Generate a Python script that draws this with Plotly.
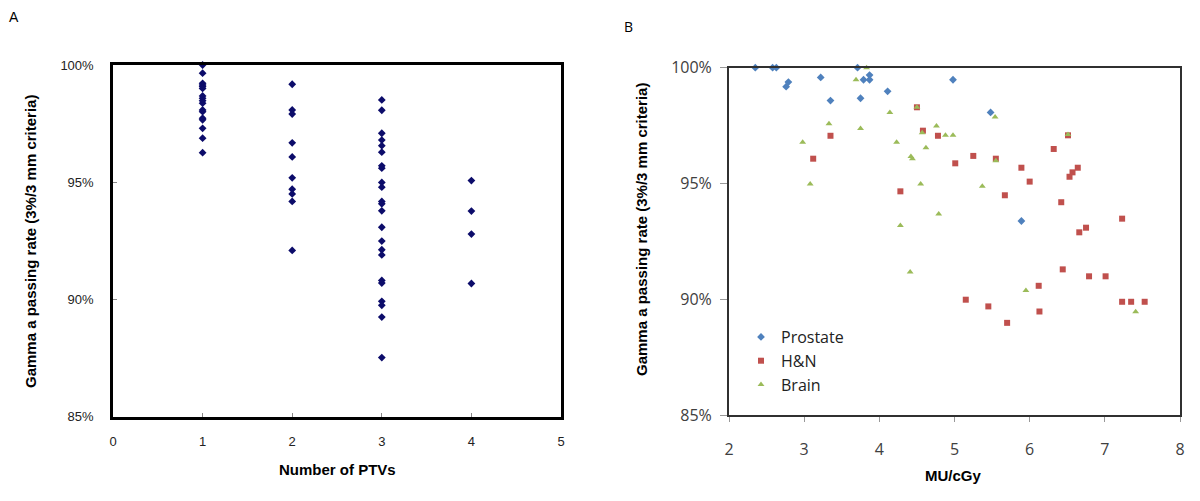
import plotly.graph_objects as go

# panel A: passing rate by number of PTVs
ptv_1 = [100, 99.65, 99.22, 99.15, 99.08, 99.0, 98.68, 98.58, 98.48, 98.37,
         98.08, 98.01, 97.73, 97.66, 97.3, 96.88, 96.26]
ptv_2 = [99.18, 98.08, 97.91, 96.68, 96.08, 95.19, 94.70, 94.50, 94.18, 92.09]
ptv_3 = [98.51, 98.07, 97.09, 96.80, 96.56, 96.28, 95.70, 95.60, 94.99, 94.79,
         94.18, 94.08, 93.78, 93.08, 92.49, 92.12, 91.90, 90.81, 90.70, 89.92,
         89.75, 89.25, 87.52]
ptv_4 = [95.07, 93.77, 92.79, 90.68]

# panel B: passing rate vs MU/cGy
prostate_mu = [2.35, 2.58, 2.63, 2.76, 2.79, 3.22, 3.35, 3.71, 3.75, 3.79,
               3.87, 3.87, 4.11, 4.98, 5.48, 5.89]
prostate_rate = [100, 100, 100, 99.18, 99.38, 99.58, 98.58, 100, 98.68, 99.48,
                 99.68, 99.48, 98.98, 99.48, 98.07, 93.38]

hn_mu = [3.12, 3.35, 4.28, 4.50, 4.58, 4.78, 5.01, 5.25, 5.55, 5.67, 5.89,
         6.00, 6.32, 6.42, 6.44, 6.51, 6.53, 6.57, 6.64, 6.66, 6.75, 6.79,
         7.01, 7.23, 6.12, 5.15, 5.45, 5.70, 6.13, 7.23, 7.35, 7.53]
hn_rate = [96.07, 97.06, 94.66, 98.29, 97.28, 97.06, 95.87, 96.19, 96.07,
           94.49, 95.68, 95.08, 96.49, 94.19, 91.29, 97.08, 95.29, 95.48,
           95.68, 92.89, 93.09, 90.99, 90.99, 93.48, 90.58, 89.98, 89.69,
           88.98, 89.47, 89.89, 89.89, 89.89]

brain_mu = [2.98, 3.08, 3.33, 3.69, 3.75, 3.83, 4.14, 4.23, 4.28, 4.41, 4.42,
            4.44, 4.50, 4.55, 4.57, 4.62, 4.76, 4.79, 4.88, 4.98, 5.37, 5.54,
            5.55, 5.95, 6.51, 7.41]
brain_rate = [96.78, 94.98, 97.58, 99.48, 97.37, 100, 98.07, 96.78, 93.18,
              91.18, 96.17, 96.07, 98.29, 94.98, 97.19, 96.54, 97.48, 93.68,
              97.08, 97.08, 94.88, 97.87, 95.98, 90.38, 97.12, 89.46]

# page body has an 8px margin, so the figure is a bit smaller and shifted
OFF = 8
W, H = 1200 - OFF, 501 - OFF


def px(x):
    return (x - OFF) / W


def py(y):
    return 1 - (y - OFF) / H


fig = go.Figure()

# panel A
ptv_x, ptv_y = [], []
for n, vals in enumerate([ptv_1, ptv_2, ptv_3, ptv_4], start=1):
    ptv_x += [n] * len(vals)
    ptv_y += vals
fig.add_trace(go.Scatter(x=ptv_x, y=ptv_y, mode='markers', showlegend=False,
                         marker=dict(symbol='diamond', size=6, color='#0c0c6a'),
                         cliponaxis=False, xaxis='x', yaxis='y'))

# panel B
series = [('Prostate', prostate_mu, prostate_rate, 'diamond', 6, '#4F81BD'),
          ('H&N', hn_mu, hn_rate, 'square', 6, '#C0504D'),
          ('Brain', brain_mu, brain_rate, 'triangle-up', 6, '#9BBB59')]
for name, mu, rate, sym, sz, col in series:
    fig.add_trace(go.Scatter(x=mu, y=rate, mode='markers', name=name,
                             marker=dict(symbol=sym, size=sz, color=col),
                             cliponaxis=False, xaxis='x2', yaxis='y2'))

font_a = dict(family='Liberation Sans, Arial', size=13, color='#222222')
font_b = dict(family='Open Sans, Noto Sans', size=16, color='#404040')

fig.update_layout(
    template='none',
    width=W, height=H,
    margin=dict(l=0, r=0, t=0, b=0, pad=0),
    plot_bgcolor='white', paper_bgcolor='white',
    xaxis=dict(domain=[px(113), px(561)], range=[0, 5], dtick=1,
               automargin=False,
               showline=True, mirror=True, linecolor='black', linewidth=2.5,
               showgrid=False, zeroline=False, ticks='inside', ticklen=4,
               tickcolor='#888888', tickfont=font_a, ticklabelstandoff=11),
    yaxis=dict(domain=[py(416.7), py(65)], range=[85, 100], dtick=5,
               automargin=False,
               ticksuffix='%', showline=True, mirror=True, linecolor='black',
               linewidth=2.5, showgrid=False, zeroline=False, ticks='inside',
               ticklen=4, tickcolor='#888888', tickfont=font_a,
               ticklabelstandoff=14),
    xaxis2=dict(domain=[px(729), px(1180)], range=[2, 8], dtick=1,
                automargin=False,
                anchor='y2', showline=True, mirror=True, linecolor='#303030',
                linewidth=2, showgrid=False, zeroline=False, ticks='outside',
                ticklen=5, tickcolor='#999999', tickfont=font_b,
                ticklabelstandoff=14),
    yaxis2=dict(domain=[py(415), py(67.7)], range=[85, 100], dtick=5,
                automargin=False,
                anchor='x2', ticksuffix='%', showline=True, mirror=True,
                linecolor='#303030', linewidth=2, showgrid=False,
                zeroline=False, ticks='outside', ticklen=7,
                tickcolor='#999999', tickfont=font_b, ticklabelstandoff=5),
    legend=dict(x=px(741), y=py(320), xanchor='left', yanchor='top',
                bgcolor='rgba(0,0,0,0)', tracegroupgap=0, borderwidth=0,
                font=dict(family='Open Sans, Noto Sans', size=16,
                          color='#222222'),
                itemwidth=30),
)

title_font = dict(family='Liberation Sans, Arial', size=15, color='black')
ytitle = 'Gamma a passing rate (3%/3 mm criteria)'


def label(text, x, y, font, angle=0):
    fig.add_annotation(text=text, x=px(x), y=py(y), xref='paper',
                       yref='paper', xanchor='center', yanchor='middle',
                       textangle=angle, showarrow=False, font=font)


label('<b>' + ytitle + '</b>', 30, 242, title_font, -90)
label('<b>' + ytitle + '</b>', 641, 230, title_font, -90)
label('<b>Number of PTVs</b>', 337, 469, title_font)
label('<b>MU/cGy</b>', 953, 475, title_font)
label('A', 14, 17, dict(family='Liberation Sans, Arial', size=14, color='black'))
label('B', 628, 26, dict(family='Open Sans, Noto Sans', size=14, color='black'))

fig.write_html("out.html")
